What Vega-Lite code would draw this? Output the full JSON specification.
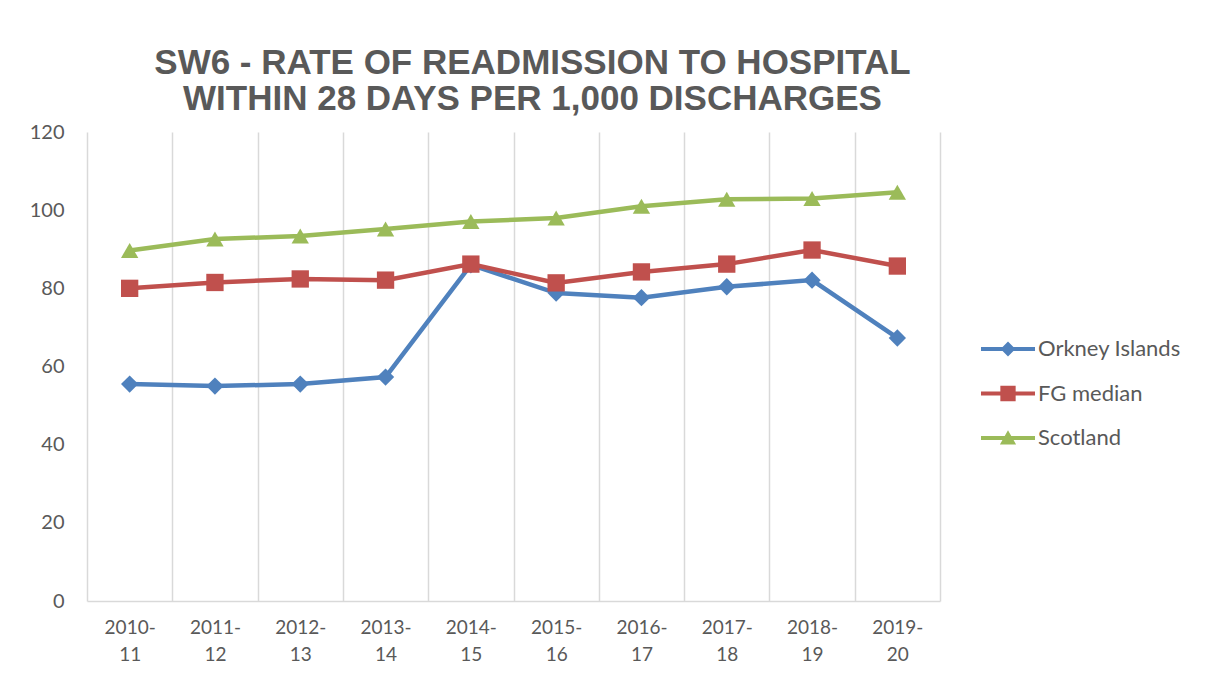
{
  "$schema": "https://vega.github.io/schema/vega-lite/v6.json",
  "width": 853,
  "height": 469,
  "autosize": {"type": "none"},
  "padding": {"left": 87, "top": 132, "right": 266, "bottom": 78},
  "background": "white",
  "title": {
    "text": ["SW6 - RATE OF READMISSION TO HOSPITAL", "WITHIN 28 DAYS PER 1,000 DISCHARGES"],
    "font": "Liberation Sans",
    "fontSize": 35,
    "fontWeight": "bold",
    "color": "#595959",
    "anchor": "middle",
    "dx": 19,
    "offset": 5,
    "lineHeight": 36
  },
  "data": {
    "values": [
      {"year": "2010-11", "series": "Orkney Islands", "value": 55.5},
      {"year": "2011-12", "series": "Orkney Islands", "value": 55.0},
      {"year": "2012-13", "series": "Orkney Islands", "value": 55.5},
      {"year": "2013-14", "series": "Orkney Islands", "value": 57.3},
      {"year": "2014-15", "series": "Orkney Islands", "value": 86.0},
      {"year": "2015-16", "series": "Orkney Islands", "value": 78.8},
      {"year": "2016-17", "series": "Orkney Islands", "value": 77.6},
      {"year": "2017-18", "series": "Orkney Islands", "value": 80.4},
      {"year": "2018-19", "series": "Orkney Islands", "value": 82.1},
      {"year": "2019-20", "series": "Orkney Islands", "value": 67.3},
      {"year": "2010-11", "series": "FG median", "value": 80.0},
      {"year": "2011-12", "series": "FG median", "value": 81.5},
      {"year": "2012-13", "series": "FG median", "value": 82.4},
      {"year": "2013-14", "series": "FG median", "value": 82.1},
      {"year": "2014-15", "series": "FG median", "value": 86.2},
      {"year": "2015-16", "series": "FG median", "value": 81.4},
      {"year": "2016-17", "series": "FG median", "value": 84.2},
      {"year": "2017-18", "series": "FG median", "value": 86.2},
      {"year": "2018-19", "series": "FG median", "value": 89.8},
      {"year": "2019-20", "series": "FG median", "value": 85.7},
      {"year": "2010-11", "series": "Scotland", "value": 89.7},
      {"year": "2011-12", "series": "Scotland", "value": 92.6},
      {"year": "2012-13", "series": "Scotland", "value": 93.4},
      {"year": "2013-14", "series": "Scotland", "value": 95.2},
      {"year": "2014-15", "series": "Scotland", "value": 97.1},
      {"year": "2015-16", "series": "Scotland", "value": 98.0},
      {"year": "2016-17", "series": "Scotland", "value": 101.0},
      {"year": "2017-18", "series": "Scotland", "value": 102.8},
      {"year": "2018-19", "series": "Scotland", "value": 103.0},
      {"year": "2019-20", "series": "Scotland", "value": 104.6}
    ]
  },
  "encoding": {
    "x": {
      "field": "year",
      "type": "ordinal",
      "sort": null,
      "scale": {"type": "band", "paddingInner": 0, "paddingOuter": 0},
      "axis": {
        "title": null,
        "tickBand": "extent",
        "ticks": false,
        "grid": true,
        "gridColor": "#d9d9d9",
        "gridWidth": 1.5,
        "domainColor": "#d9d9d9",
        "domainWidth": 1.5,
        "labelAngle": 0,
        "labelFont": "Lato",
        "labelFontSize": 19,
        "labelColor": "#595959",
        "labelPadding": 17,
        "labelLineHeight": 27,
        "labelExpr": "[slice(datum.label, 0, 5), slice(datum.label, 5)]"
      }
    },
    "y": {
      "field": "value",
      "type": "quantitative",
      "scale": {"domain": [0, 120], "nice": false},
      "axis": {
        "title": null,
        "values": [0, 20, 40, 60, 80, 100, 120],
        "grid": false,
        "domain": false,
        "ticks": false,
        "labelFont": "Lato",
        "labelFontSize": 20,
        "labelColor": "#595959",
        "labelPadding": 23
      }
    }
  },
  "layer": [
    {
      "mark": {"type": "line", "strokeWidth": 4.5},
      "encoding": {
        "color": {
          "field": "series",
          "type": "nominal",
          "scale": {
            "domain": ["Orkney Islands", "FG median", "Scotland"],
            "range": ["#4f81bd", "#c0504d", "#9bbb59"]
          },
          "legend": null
        }
      }
    },
    {
      "mark": {"type": "point", "filled": true, "opacity": 1, "size": 300},
      "encoding": {
        "color": {
          "field": "series",
          "type": "nominal",
          "scale": {
            "domain": ["Orkney Islands", "FG median", "Scotland"],
            "range": ["#4f81bd", "#c0504d", "#9bbb59"]
          },
          "legend": null
        },
        "shape": {
          "field": "series",
          "type": "nominal",
          "scale": {
            "domain": ["Orkney Islands", "FG median", "Scotland"],
            "range": ["diamond", "square", "triangle-up"]
          },
          "legend": null
        }
      }
    },
    {
      "transform": [{"filter": "datum.value > 1000"}],
      "mark": {"type": "point", "filled": true, "opacity": 1, "size": 324},
      "encoding": {
        "color": {
          "field": "series",
          "type": "nominal",
          "scale": {
            "domain": ["Orkney Islands", "FG median", "Scotland"],
            "range": ["#4f81bd", "#c0504d", "#9bbb59"]
          },
          "legend": {
            "title": null,
            "orient": "none",
            "legendX": 910,
            "legendY": 206,
            "padding": 0,
            "symbolSize": 324,
            "symbolStrokeWidth": 0,
            "labelFont": "Lato",
            "labelFontSize": 22,
            "labelColor": "#595959",
            "labelOffset": 19,
            "rowPadding": 22.5
          }
        },
        "shape": {
          "field": "series",
          "type": "nominal",
          "scale": {
            "domain": ["Orkney Islands", "FG median", "Scotland"],
            "range": [
              "M-3,-0.22H3V0.22H-3Z M0,-0.82L0.82,0L0,0.82L-0.82,0Z",
              "M-3,-0.22H3V0.22H-3Z M-0.85,-0.85H0.85V0.85H-0.85Z",
              "M-3,-0.22H3V0.22H-3Z M0,-0.85L0.9,0.72L-0.9,0.72Z"
            ]
          },
          "legend": {
            "title": null,
            "orient": "none",
            "legendX": 910,
            "legendY": 206,
            "padding": 0,
            "symbolSize": 324,
            "symbolStrokeWidth": 0,
            "labelFont": "Lato",
            "labelFontSize": 22,
            "labelColor": "#595959",
            "labelOffset": 19,
            "rowPadding": 22.5
          }
        }
      }
    }
  ],
  "resolve": {
    "scale": {"color": "independent", "shape": "independent"},
    "legend": {"color": "independent", "shape": "independent"}
  },
  "config": {
    "view": {"stroke": null},
    "font": "Lato"
  }
}
